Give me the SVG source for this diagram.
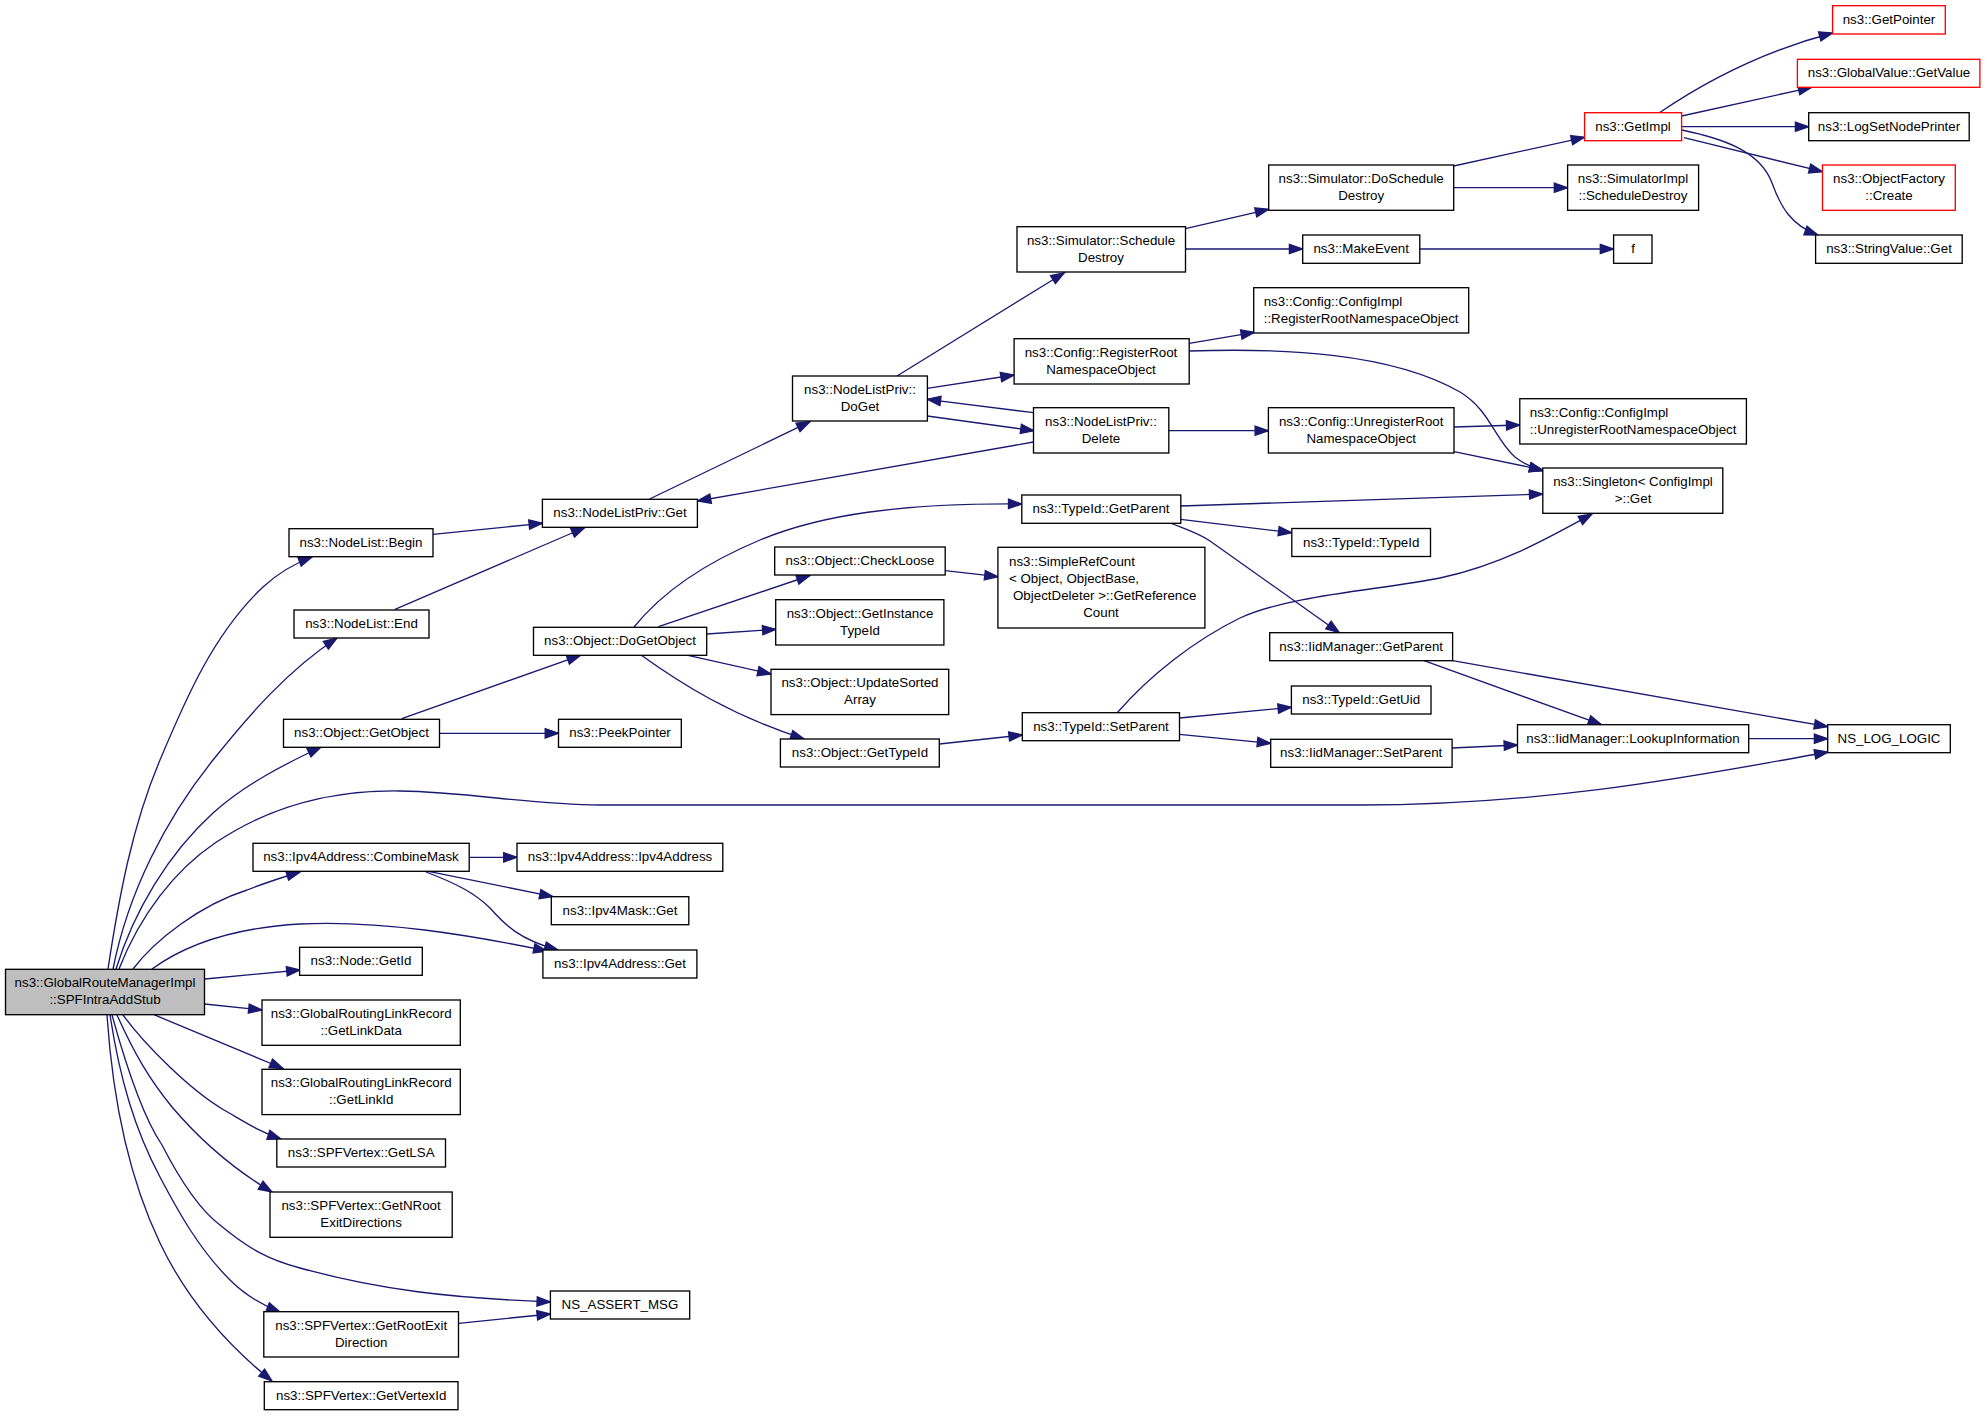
<svg xmlns="http://www.w3.org/2000/svg" width="1987" height="1416" viewBox="0 0 1987 1416">
<style>
.node rect{fill:#ffffff;stroke:#000000;stroke-width:1.33}
.red rect{stroke:#ff0000}
.main rect{fill:#bfbfbf}
text{font-family:"Liberation Sans",Arial,Helvetica,sans-serif;font-size:13.33px;fill:#000000;text-anchor:middle}
text.l{text-anchor:start}
.edges path{fill:none;stroke:#191970;stroke-width:1.33;marker-end:url(#arr)}
</style>
<defs>
<marker id="arr" markerUnits="userSpaceOnUse" markerWidth="16" markerHeight="12" refX="13.3" refY="4.65" orient="auto" overflow="visible">
<path d="M0,0 L13.3,4.65 L0,9.3 z" fill="#191970" stroke="#191970" stroke-width="1.33"/>
</marker>
</defs>
<rect x="0" y="0" width="1987" height="1416" fill="#ffffff"/>
<g class="edges" id="edges">
<path d="M108,969 C119,897 132,826 160,760 C186,698 214,633 263,587 C278,573 296,563 312,557"/>
<path d="M113,969 C128,893 165,820 213,760 C249,715 288,670 337,638"/>
<path d="M116,969 C134,911 168,854 213,813 C244,785 283,765 321,747"/>
<path d="M119,969 C140,915 175,870 215,843 C270,806 330,790 400,791 C470,792 530,805 600,805 L1360,805 C1550,805 1700,775 1828,752"/>
<path d="M133,969 C155,940 200,905 247,890 C265,883 280,878 300,872"/>
<path d="M152,969 C185,945 230,928 300,924 C380,920 470,935 547,951"/>
<path d="M205,979 L300,970"/>
<path d="M204.5,1004 L262,1010"/>
<path d="M154,1014.7 L283,1068.5"/>
<path d="M123,1015 C145,1045 190,1090 224,1110 C245,1122 260,1132 281,1139"/>
<path d="M117,1015 C135,1055 150,1080 172,1107 C200,1140 235,1170 272,1192"/>
<path d="M112,1015 C130,1080 145,1120 162,1145 C180,1180 200,1210 220,1225 C250,1250 270,1260 300,1268 C380,1290 450,1298 550.4,1302"/>
<path d="M110,1015 C120,1080 135,1130 160,1177 C180,1215 200,1250 230,1280 C245,1295 262,1305 280,1312"/>
<path d="M107,1015 C112,1090 125,1170 160,1243 C180,1285 215,1335 272,1381"/>
<path d="M433,534.3 L542.4,523.3"/>
<path d="M395,609.3 L584.8,527.5"/>
<path d="M401.8,718.7 L580.4,655.3"/>
<path d="M439.3,733.3 L558.5,733.3"/>
<path d="M469.2,857.3 L517,857.3"/>
<path d="M428.6,871.3 L553,896.7"/>
<path d="M426,872 C455,883 475,893 490,908 C505,925 520,940 558,950"/>
<path d="M458.5,1323.3 L550.4,1314"/>
<path d="M649.6,499 L810,421.7"/>
<path d="M897,376 L1064.3,272.7"/>
<path d="M927.3,388.3 L1014.1,375"/>
<path d="M927.3,416 L1034,430.7"/>
<path d="M1033.5,412.7 L927.3,399.3"/>
<path d="M1033.5,442 L697.5,501"/>
<path d="M1168.7,430.7 L1268.4,430.7"/>
<path d="M634,627 C660,595 700,565 760,540 C820,515 900,503 1021.8,504"/>
<path d="M658.5,626.7 L810,575.5"/>
<path d="M706.7,634 L775.9,629.3"/>
<path d="M688,655.3 L771,674"/>
<path d="M641,655 C680,683 730,715 804,739"/>
<path d="M945.2,570.7 L998,576.7"/>
<path d="M939.3,744 L1022.3,735"/>
<path d="M1185.5,228.7 L1268.7,209.3"/>
<path d="M1185.5,249 L1302.7,249"/>
<path d="M1189.2,343.3 L1254.4,332.3"/>
<path d="M1189,351 C1280,348 1390,352 1460,392 C1490,410 1495,440 1515,457 C1525,465 1533,468 1543,471"/>
<path d="M1454,427 L1519.8,425"/>
<path d="M1454,451.7 L1542.8,470"/>
<path d="M1180.7,506 L1542.8,494"/>
<path d="M1180.7,519.3 L1291.8,532.7"/>
<path d="M1170,523 C1185,529 1198,533 1210,541 L1339.3,632.7"/>
<path d="M1117,713 C1150,675 1195,640 1240,618 C1290,595 1380,590 1440,578 C1500,565 1545,540 1592,514"/>
<path d="M1179.5,718 L1291.4,707.3"/>
<path d="M1179.5,734.3 L1270.7,743.3"/>
<path d="M1424,660.7 L1601.6,724.7"/>
<path d="M1452.6,660.7 L1827.7,726.7"/>
<path d="M1452,748 L1517.5,745"/>
<path d="M1748.7,738.7 L1827.7,738.7"/>
<path d="M1453.7,166 L1584.6,137.3"/>
<path d="M1453.7,187.7 L1567.6,187.7"/>
<path d="M1419.8,249 L1613.6,249"/>
<path d="M1659,113 C1700,85 1760,52 1832.6,33"/>
<path d="M1681.6,116 L1811.8,87.3"/>
<path d="M1681.6,126.7 L1808.7,126.7"/>
<path d="M1684,137.7 L1822.5,171.7"/>
<path d="M1682,130 C1720,138 1760,150 1772,183 C1780,205 1790,225 1818,235"/>
</g>
<g id="n_main" class="node main"><rect x="5.5" y="969.3" width="199" height="45.4"/><text x="105" y="987.3">ns3::GlobalRouteManagerImpl</text><text x="105" y="1004.3">::SPFIntraAddStub</text></g>
<g id="n_begin" class="node"><rect x="289" y="528.7" width="144" height="28"/><text x="361" y="546.7">ns3::NodeList::Begin</text></g>
<g id="n_end" class="node"><rect x="294" y="610" width="135" height="28"/><text x="361.5" y="628">ns3::NodeList::End</text></g>
<g id="n_getobject" class="node"><rect x="283.5" y="719.3" width="156" height="28"/><text x="361.5" y="737.3">ns3::Object::GetObject</text></g>
<g id="n_combinemask" class="node"><rect x="253" y="843.3" width="216.2" height="28"/><text x="361" y="861.3">ns3::Ipv4Address::CombineMask</text></g>
<g id="n_nodegetid" class="node"><rect x="299.6" y="947.3" width="122.7" height="28"/><text x="361" y="965.3">ns3::Node::GetId</text></g>
<g id="n_getlinkdata" class="node"><rect x="262" y="1000" width="198.3" height="45.3"/><text x="361.2" y="1018">ns3::GlobalRoutingLinkRecord</text><text x="361.2" y="1035">::GetLinkData</text></g>
<g id="n_getlinkid" class="node"><rect x="262" y="1069.3" width="198.3" height="45.3"/><text x="361.2" y="1087.3">ns3::GlobalRoutingLinkRecord</text><text x="361.2" y="1104.3">::GetLinkId</text></g>
<g id="n_getlsa" class="node"><rect x="276.8" y="1139" width="168.7" height="28"/><text x="361.2" y="1157">ns3::SPFVertex::GetLSA</text></g>
<g id="n_getnroot" class="node"><rect x="270" y="1192" width="182.2" height="45.3"/><text x="361.1" y="1210">ns3::SPFVertex::GetNRoot</text><text x="361.1" y="1227">ExitDirections</text></g>
<g id="n_getrootexit" class="node"><rect x="263.8" y="1311.7" width="194.7" height="45.3"/><text x="361.2" y="1329.6">ns3::SPFVertex::GetRootExit</text><text x="361.2" y="1346.6">Direction</text></g>
<g id="n_getvertexid" class="node"><rect x="264.3" y="1381.7" width="193.7" height="28"/><text x="361.2" y="1399.7">ns3::SPFVertex::GetVertexId</text></g>
<g id="n_nlpget" class="node"><rect x="542.4" y="499.3" width="155" height="28"/><text x="620" y="517.3">ns3::NodeListPriv::Get</text></g>
<g id="n_dogetobject" class="node"><rect x="533.5" y="627.3" width="173.2" height="28"/><text x="620" y="645.3">ns3::Object::DoGetObject</text></g>
<g id="n_peekpointer" class="node"><rect x="558.5" y="719.3" width="122.8" height="28"/><text x="620" y="737.3">ns3::PeekPointer</text></g>
<g id="n_ipv4ctor" class="node"><rect x="517" y="843.3" width="205.8" height="28"/><text x="620" y="861.3">ns3::Ipv4Address::Ipv4Address</text></g>
<g id="n_maskget" class="node"><rect x="551.3" y="896.7" width="137.5" height="28"/><text x="620" y="914.7">ns3::Ipv4Mask::Get</text></g>
<g id="n_addrget" class="node"><rect x="542.9" y="950" width="154" height="28"/><text x="620" y="968">ns3::Ipv4Address::Get</text></g>
<g id="n_assert" class="node"><rect x="550.4" y="1291" width="139.3" height="28"/><text x="620" y="1309">NS_ASSERT_MSG</text></g>
<g id="n_doget" class="node"><rect x="792.5" y="376" width="134.9" height="45"/><text x="860" y="393.8">ns3::NodeListPriv::</text><text x="860" y="410.8">DoGet</text></g>
<g id="n_checkloose" class="node"><rect x="774.7" y="547" width="170.5" height="28"/><text x="860" y="565">ns3::Object::CheckLoose</text></g>
<g id="n_getinstance" class="node"><rect x="775.7" y="599.7" width="168.2" height="45.3"/><text x="860" y="617.6">ns3::Object::GetInstance</text><text x="860" y="634.6">TypeId</text></g>
<g id="n_updatesorted" class="node"><rect x="771" y="669.3" width="177.7" height="45.3"/><text x="860" y="687.3">ns3::Object::UpdateSorted</text><text x="860" y="704.3">Array</text></g>
<g id="n_gettypeid" class="node"><rect x="780.4" y="739" width="158.9" height="28"/><text x="860" y="757">ns3::Object::GetTypeId</text></g>
<g id="n_scheddestroy" class="node"><rect x="1017" y="226.7" width="168.5" height="45.3"/><text x="1101" y="244.6">ns3::Simulator::Schedule</text><text x="1101" y="261.6">Destroy</text></g>
<g id="n_register" class="node"><rect x="1014.1" y="338.7" width="175.1" height="45.3"/><text x="1101" y="356.6">ns3::Config::RegisterRoot</text><text x="1101" y="373.6">NamespaceObject</text></g>
<g id="n_delete" class="node"><rect x="1033.5" y="407.7" width="135.3" height="45.3"/><text x="1101" y="425.6">ns3::NodeListPriv::</text><text x="1101" y="442.6">Delete</text></g>
<g id="n_typegetparent" class="node"><rect x="1021.8" y="495" width="159" height="28.3"/><text x="1101" y="513.2">ns3::TypeId::GetParent</text></g>
<g id="n_simpleref" class="node"><rect x="997.9" y="547.3" width="207" height="80.7"/><text class="l" x="1009" y="566.2">ns3::SimpleRefCount</text><text class="l" x="1009" y="583.2">&lt; Object, ObjectBase,</text><text class="l" x="1013" y="600.2">ObjectDeleter &gt;::GetReference</text><text x="1101" y="617.2">Count</text></g>
<g id="n_typesetparent" class="node"><rect x="1022.3" y="712.7" width="157.2" height="28"/><text x="1101" y="730.7">ns3::TypeId::SetParent</text></g>
<g id="n_doscheddestroy" class="node"><rect x="1268.7" y="165" width="185" height="45.3"/><text x="1361.2" y="183">ns3::Simulator::DoSchedule</text><text x="1361.2" y="200">Destroy</text></g>
<g id="n_makeevent" class="node"><rect x="1302.7" y="235" width="117.1" height="28.3"/><text x="1361.2" y="253.2">ns3::MakeEvent</text></g>
<g id="n_cfgregister" class="node"><rect x="1253.7" y="287.7" width="215" height="45.3"/><text class="l" x="1263.7" y="305.6">ns3::Config::ConfigImpl</text><text class="l" x="1263.7" y="322.6">::RegisterRootNamespaceObject</text></g>
<g id="n_unregister" class="node"><rect x="1268.4" y="407.7" width="185.6" height="45.3"/><text x="1361.2" y="425.6">ns3::Config::UnregisterRoot</text><text x="1361.2" y="442.6">NamespaceObject</text></g>
<g id="n_typeidctor" class="node"><rect x="1291.8" y="528.5" width="138.7" height="28"/><text x="1361.2" y="546.5">ns3::TypeId::TypeId</text></g>
<g id="n_iidgetparent" class="node"><rect x="1269.7" y="632.7" width="182.9" height="28"/><text x="1361.2" y="650.7">ns3::IidManager::GetParent</text></g>
<g id="n_getuid" class="node"><rect x="1291.4" y="686" width="139.6" height="28"/><text x="1361.2" y="704">ns3::TypeId::GetUid</text></g>
<g id="n_iidsetparent" class="node"><rect x="1270.7" y="739.3" width="181.4" height="28"/><text x="1361.2" y="757.3">ns3::IidManager::SetParent</text></g>
<g id="n_getimpl" class="node red"><rect x="1584.6" y="112.7" width="97" height="28"/><text x="1633" y="130.7">ns3::GetImpl</text></g>
<g id="n_simimpl" class="node"><rect x="1567.6" y="165" width="131" height="45.3"/><text x="1633" y="183">ns3::SimulatorImpl</text><text x="1633" y="200">::ScheduleDestroy</text></g>
<g id="n_f" class="node"><rect x="1613.6" y="235" width="38.4" height="28.3"/><text x="1633" y="253.2">f</text></g>
<g id="n_cfgunregister" class="node"><rect x="1519.8" y="398.7" width="226.6" height="45.3"/><text class="l" x="1529.8" y="416.6">ns3::Config::ConfigImpl</text><text class="l" x="1529.8" y="433.6">::UnregisterRootNamespaceObject</text></g>
<g id="n_singleton" class="node"><rect x="1542.8" y="468" width="180" height="45.3"/><text x="1633" y="486">ns3::Singleton&lt; ConfigImpl</text><text x="1633" y="503">&gt;::Get</text></g>
<g id="n_lookup" class="node"><rect x="1517.5" y="724.7" width="231.2" height="28"/><text x="1633" y="742.7">ns3::IidManager::LookupInformation</text></g>
<g id="n_getpointer" class="node red"><rect x="1832.6" y="5.7" width="112.7" height="28.3"/><text x="1889" y="23.8">ns3::GetPointer</text></g>
<g id="n_globalvalue" class="node red"><rect x="1797.4" y="59.3" width="182.5" height="28"/><text x="1889" y="77.3">ns3::GlobalValue::GetValue</text></g>
<g id="n_logset" class="node"><rect x="1808.7" y="112.7" width="160.5" height="28"/><text x="1889" y="130.7">ns3::LogSetNodePrinter</text></g>
<g id="n_objfactory" class="node red"><rect x="1822.5" y="165" width="132.8" height="45.3"/><text x="1889" y="183">ns3::ObjectFactory</text><text x="1889" y="200">::Create</text></g>
<g id="n_stringvalue" class="node"><rect x="1815.6" y="235" width="146.6" height="28.3"/><text x="1889" y="253.2">ns3::StringValue::Get</text></g>
<g id="n_nslog" class="node"><rect x="1827.7" y="724.7" width="122.6" height="28"/><text x="1889" y="742.7">NS_LOG_LOGIC</text></g>
</svg>
